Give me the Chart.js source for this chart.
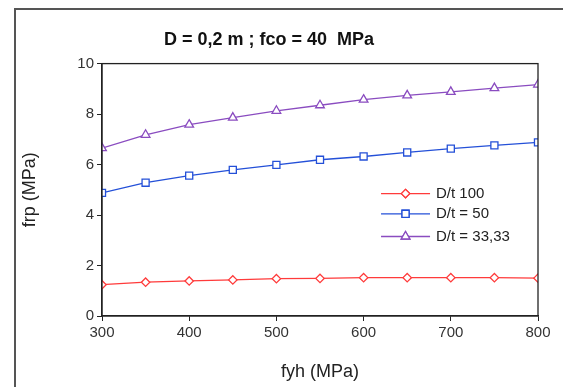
<!DOCTYPE html>
<html>
<head>
<meta charset="utf-8">
<script src="https://cdn.jsdelivr.net/npm/chart.js@4/dist/chart.umd.min.js"></script>
<style>
  html, body { margin: 0; padding: 0; background: #fff; }
  #wrap { position: relative; width: 563px; height: 387px; }
  #frame { position: absolute; left: 14px; top: 8px; width: 600px; height: 400px;
           border-left: 2px solid #555; border-top: 2px solid #555; box-sizing: border-box; }
  canvas { position: absolute; left: 0; top: 0; }
</style>
</head>
<body>
<div id="wrap">
  <div id="frame"></div>
  <canvas id="chart" width="563" height="387"></canvas>
</div>
<script>
// fyh values (MPa)
const fyh = [300, 350, 400, 450, 500, 550, 600, 650, 700, 750, 800];
// frp values (MPa) for each D/t
const dt100 = [1.24, 1.34, 1.39, 1.43, 1.48, 1.49, 1.52, 1.52, 1.52, 1.52, 1.50];
const dt50 = [4.88, 5.28, 5.56, 5.79, 5.99, 6.19, 6.32, 6.48, 6.63, 6.76, 6.88];
const dt3333 = [6.65, 7.18, 7.58, 7.86, 8.13, 8.35, 8.57, 8.74, 8.88, 9.03, 9.17];
const seriesNames = ['D/t 100', 'D/t = 50', 'D/t = 33,33'];
const xTicks = [300, 400, 500, 600, 700, 800];
const yTicks = [0, 2, 4, 6, 8, 10];

const font = "'Liberation Sans', Arial, sans-serif";
const toPoints = ys => fyh.map((x, i) => ({ x: x, y: ys[i] }));

function makeSet(label, ys, color, style, radius) {
    return {
        label: label,
        data: toPoints(ys),
        borderColor: color,
        borderWidth: 1.3,
        pointStyle: style,
        pointRadius: radius,
        pointBorderWidth: 1.3,
        pointBackgroundColor: '#fff',
        pointBorderColor: color,
        tension: 0
    };
}

// frame of the plot area + legend inside the plot
const plotDeco = {
    id: 'plotDeco',
    afterDraw(chart) {
        const ctx = chart.ctx;
        const a = chart.chartArea;
        ctx.save();
        ctx.strokeStyle = '#222';
        ctx.lineWidth = 1.3;
        ctx.strokeRect(a.left, a.top, a.right - a.left, a.bottom - a.top);

        const x0 = a.left + (a.right - a.left) * 0.64;
        const rows = [0.485, 0.405, 0.315];
        ctx.font = '15px ' + font;
        ctx.textBaseline = 'middle';
        chart.data.datasets.forEach((ds, i) => {
            const y = a.top + (a.bottom - a.top) * (1 - rows[i]);
            ctx.strokeStyle = ds.borderColor;
            ctx.lineWidth = ds.borderWidth;
            ctx.beginPath();
            ctx.moveTo(x0, y);
            ctx.lineTo(x0 + 49, y);
            ctx.stroke();
            Chart.helpers.drawPoint(ctx, {
                pointStyle: ds.pointStyle, radius: ds.pointRadius, borderWidth: ds.pointBorderWidth
            }, x0 + 24.5, y);
            ctx.fillStyle = '#fff';
            ctx.fill();
            ctx.stroke();
            ctx.fillStyle = '#222';
            ctx.fillText(ds.label, x0 + 55, y);
        });
        ctx.restore();
    }
};

new Chart(document.getElementById('chart'), {
    type: 'line',
    data: {
        datasets: [
            makeSet(seriesNames[0], dt100, '#ff3b3b', 'rectRot', 4.2),
            makeSet(seriesNames[1], dt50, '#2450d8', 'rect', 5),
            makeSet(seriesNames[2], dt3333, '#8a4cc0', 'triangle', 5)
        ]
    },
    options: {
        responsive: false,
        animation: false,
        layout: { padding: { top: 0, right: 25, bottom: 0, left: 0 } },
        plugins: {
            legend: { display: false },
            tooltip: { enabled: false },
            title: {
                display: true,
                text: 'D = 0,2 m ; fco = 40  MPa',
                color: '#111',
                font: { family: font, size: 18, weight: 'bold' },
                padding: { top: 29, bottom: 13 }
            }
        },
        scales: {
            x: {
                type: 'linear',
                min: 300,
                max: 800,
                afterBuildTicks: s => { s.ticks = xTicks.map(v => ({ value: v })); },
                afterFit: s => { s.height = 71; },
                ticks: { color: '#333', font: { family: font, size: 15 }, padding: 3, maxRotation: 0 },
                grid: { drawOnChartArea: false, drawTicks: true, tickLength: 5, color: '#222' },
                border: { display: true, color: '#222', width: 1.3 },
                title: {
                    display: true, text: 'fyh (MPa)', color: '#222',
                    font: { family: font, size: 18 }, padding: { top: 0, bottom: 4 }
                }
            },
            y: {
                min: 0,
                max: 10,
                afterBuildTicks: s => { s.ticks = yTicks.map(v => ({ value: v })); },
                afterFit: s => { s.width = 102; },
                ticks: { color: '#333', font: { family: font, size: 15 }, padding: 3 },
                grid: { drawOnChartArea: false, drawTicks: true, tickLength: 5, color: '#222' },
                border: { display: true, color: '#222', width: 1.3 },
                title: {
                    display: true, text: 'frp (MPa)', color: '#222',
                    font: { family: font, size: 18 }, padding: { top: 19, bottom: 0 }
                }
            }
        }
    },
    plugins: [plotDeco]
});
</script>
</body>
</html>
